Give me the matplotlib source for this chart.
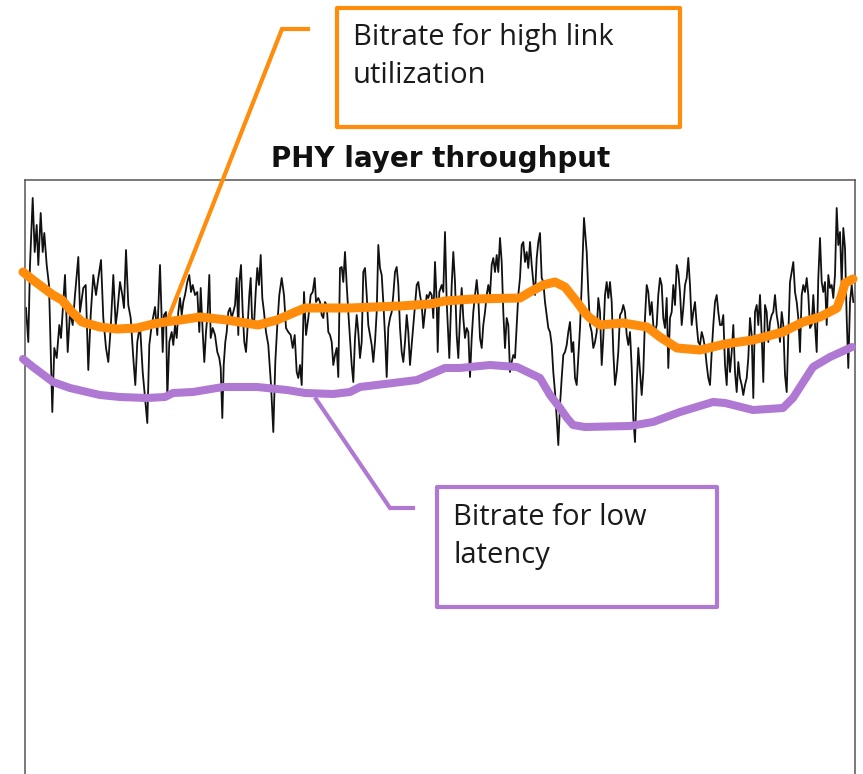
import matplotlib.pyplot as plt
from matplotlib.patches import Rectangle
from matplotlib.lines import Line2D

W, H = 863, 774

# PHY layer throughput samples (time in ms, throughput in arbitrary units)
time_ms = [
    # 0 - 140
    1, 3.3, 5, 7.7, 9.7, 11.7, 13.3, 15.7, 17.7, 19.3, 21.7, 24, 27.3, 29.3, 31.7,
    34.3, 36, 40, 42.7, 45, 47.7, 50, 53.3, 55, 58.3, 60.7, 63.3, 65.7, 68.3, 71,
    73.3, 76, 78.3, 81, 83.3, 85.7, 88.3, 90.7, 92.3, 95, 97.3, 99, 101, 103.3, 105.7,
    108.3, 110.3, 112.3, 115, 117.7, 120, 122.3, 124.3, 126.7, 130, 132.3, 135, 137.7,
    # 140 - 275
    139, 141, 142.3, 144.3, 146.7, 148.3, 150, 151.7, 153.3, 155, 156.7, 158.3, 160,
    162.3, 164.3, 166, 167.7, 170, 172.3, 174.3, 175.7, 177.7, 179.3, 181, 182.7,
    184.3, 185.7, 187.7, 190, 192.3, 194.3, 195.7, 197.3, 198.7, 200.3, 201.7, 203.3,
    205, 206.7, 208.3, 210, 211.7, 213.3, 214.3, 216, 217.7, 219.3, 221, 222.3, 224.3,
    225.7, 227, 229, 230.7, 232.3, 234, 235.7, 237.3, 239, 241, 243.3, 246, 248.3,
    250.3, 252.3, 254.3, 256.7, 259, 261, 263.3, 265.7, 267.7, 269.7, 271.7, 273.3, 275,
    # 275 - 420
    276.7, 279, 281, 283.3, 285.7, 287.7, 289.7, 291, 293.3, 295, 296.7, 298.3, 300,
    301.7, 303.3, 305, 306.7, 308.3, 310, 311.7, 313.3, 315, 316.7, 318.3, 320, 321.7,
    323.3, 325, 326.7, 328.3, 330, 331.7, 333.3, 335, 336.7, 338.3, 340, 341.7, 343.3,
    345, 346.7, 348.3, 350, 351.7, 353.3, 355, 356.7, 358.3, 360, 361.7, 363.3, 365,
    366.7, 368.3, 370, 371.7, 373.3, 375, 376.7, 378.3, 380, 381.7, 383.3, 385, 386.7,
    388.3, 390, 391.7, 393.3, 395, 396.7, 398.3, 400, 401.7, 403.3, 405, 406.7, 408.3,
    410, 411.7, 412.7, 414.3, 416.7, 418.3,
    # 420 - 560
    420, 421.7, 424.3, 426.7, 428.3, 430, 431.7, 433.3, 435, 436.7, 438.3, 440, 441.7,
    443.3, 445, 446.7, 448.3, 450, 451.7, 453.3, 455, 456.7, 458.3, 460, 461.7, 463.3,
    465, 466.7, 468.3, 470, 471.7, 473.3, 475, 476.7, 478.3, 480, 481.7, 483.3, 485,
    486.7, 488.3, 490, 491.7, 493.3, 495, 496.7, 498.3, 500, 501.7, 503.3, 505, 506.7,
    508.3, 510, 511.7, 513.3, 515, 516.7, 518.3, 520, 521.7, 523.3, 525, 526.7, 528.3,
    530, 531.7, 533.3, 535, 536.7, 538.3, 540, 541.7, 543.3, 545, 546.7, 548.3, 550,
    551.7, 553.3, 555, 556.7, 559,
    # 560 - 695
    561.7, 563.3, 565, 566.7, 568.3, 570, 571.7, 573.3, 575, 576.7, 578.3, 580, 581.7,
    583.3, 585, 586.7, 588.3, 590, 591.7, 593.3, 595, 596.7, 598.3, 600, 601.7, 603.3,
    605, 606.7, 608.3, 610, 611.7, 613.3, 615, 616.7, 618.3, 620, 621.7, 623.3, 625,
    626.7, 628.3, 630, 631.7, 633.3, 635, 636.7, 638.3, 640, 641.7, 643.3, 645, 646.7,
    648.3, 650, 651.7, 653.3, 655, 656.7, 658.3, 660, 661.7, 663.3, 665, 666.7, 668.3,
    670, 671.7, 673.3, 675, 676.7, 678.3, 680, 681.7, 683.3, 685, 686.7, 688.3, 690,
    691.7, 693.3, 695,
    # 695 - 830
    696.7, 698.3, 700, 701.7, 703.3, 705, 706.7, 708.3, 710, 711.7, 713.3, 715, 716.7,
    718.3, 720, 721.7, 723.3, 725, 726.7, 728.3, 730, 731.7, 733.3, 735, 736.7, 738.3,
    740, 741.7, 743.3, 745, 746.7, 748.3, 750, 751.7, 753.3, 755, 756.7, 758.3, 760,
    761.7, 763.3, 765, 766.7, 768.3, 770, 771.7, 773.3, 775, 776.7, 778.3, 780, 781.7,
    783.3, 785, 786.7, 788.3, 790, 791.7, 793.3, 795, 796.7, 798.3, 800, 801.7, 803.3,
    805, 806.7, 808.3, 810, 811.7, 813.3, 815, 816.7, 818.3, 820, 821.7, 823.3, 825,
    826.7, 828.3,
]
phy_throughput = [
    466, 432, 509, 576, 522, 549, 509, 561, 522, 541, 509, 489, 362, 426, 416,
    449, 436, 499, 422, 462, 449, 479, 517, 462, 486, 489, 404, 459, 499, 479,
    496, 514, 456, 426, 412, 446, 499, 449, 462, 492, 479, 466, 524, 469, 456,
    416, 389, 432, 449, 402, 376, 351, 429, 449, 467, 439, 509, 422,
    459, 462, 376, 432, 442, 429, 449, 436, 462, 476, 459, 472, 479,
    492, 499, 482, 489, 479, 482, 442, 486, 442, 412, 442, 462,
    499, 436, 446, 439, 422, 416, 406, 356, 409, 432, 442, 462,
    466, 456, 462, 469, 496, 439, 492, 509, 462, 432, 422, 442, 479,
    496, 456, 449, 482, 506, 489, 519, 476, 462, 442, 429, 389, 342,
    412, 449, 479, 496, 479, 446, 442, 439, 426, 439, 402, 396, 409,
    389, 482, 439, 456, 479, 482, 496, 472, 476, 472, 459, 456, 472,
    469, 442, 439, 432, 409, 419, 426, 397, 506, 507, 492, 522, 489,
    462, 436, 409, 392, 436, 459, 442, 416, 432, 502, 506, 479, 449,
    439, 429, 412, 432, 462, 529, 506, 499, 472, 439, 397, 446, 456,
    462, 479, 502, 507, 489, 446, 422, 412, 432, 459, 442, 409, 429,
    449, 469, 489, 492, 479, 469, 446, 462, 479, 476, 482, 479, 456,
    512, 472, 422, 482, 489, 482,
    542, 472, 416, 489, 522, 492, 439, 416, 456, 486, 456, 436, 446,
    442, 397, 436, 462, 479, 494, 476, 436, 426, 449, 462, 479, 489,
    479, 509, 516, 502, 519, 502, 536, 512, 462, 426, 456, 449, 402,
    412, 419, 416, 449, 479, 496, 529, 532, 512, 522, 506, 532, 509,
    492, 479, 516, 532, 541, 496, 492, 472, 459, 446, 442, 429, 402,
    382, 356, 329, 369, 396, 419, 422, 429, 442, 452, 422, 432, 396,
    389, 416, 446, 489, 556,
    522, 482, 449, 442, 426, 432, 442, 476, 462, 409, 436, 479, 492,
    476, 492, 472, 422, 389, 402, 422, 459, 462, 469, 462, 439, 429,
    442, 406, 356, 332, 389, 426, 402, 379, 402, 456, 489, 482, 459,
    472, 449, 442, 449, 479, 496, 489, 456, 446, 476, 406, 456, 462,
    489, 469, 509, 502, 482, 449, 466, 489, 496, 516, 489, 449, 462,
    472, 449, 432, 429, 442, 436, 426, 409, 396, 389, 422, 449, 472,
    479, 462, 449,
    449, 459, 409, 389, 432, 402, 422, 449, 402, 382, 412, 396, 389,
    379, 389, 396, 416, 456, 439, 376, 462, 469, 449, 479, 439, 392,
    469, 462, 432, 452, 459, 462, 479, 459, 449, 432, 462, 449, 399,
    382, 439, 492, 502, 512, 482, 472, 456, 422, 479, 489, 482, 496,
    479, 446, 449, 479, 449, 422, 496, 536, 492, 482, 492, 449, 499,
    486, 489, 476, 499, 566, 529, 542, 489, 546, 526, 456, 406, 472,
    489, 472,
]

# bitrate for high link utilization (orange)
high_util_t = [-2, 8, 28, 37, 47, 57, 75, 92, 112, 128, 140, 155, 175, 202, 233, 252,
               268, 280, 288, 325, 375, 405, 420, 448, 495, 505, 518, 530, 540, 552,
               560, 565, 575, 598, 622, 635, 652, 675, 700, 728, 758, 778, 795, 812,
               817, 820, 828]
high_util_rate = [502, 494, 479, 474, 462, 452, 447, 445, 446, 450, 452, 454, 457, 454,
                  449, 454, 461, 466, 466, 466, 468, 470, 473, 475, 476, 482, 489, 492,
                  487, 472, 461, 456, 449, 451, 447, 437, 426, 424, 430, 434, 442, 452,
                  457, 466, 480, 491, 495]

# bitrate for low latency (purple)
low_lat_t = [-2, 8, 28, 45, 75, 95, 122, 140, 148, 168, 198, 232, 262, 280, 308, 325,
             335, 368, 392, 420, 435, 465, 492, 515, 525, 535, 542, 548, 560, 605, 628,
             655, 688, 700, 728, 758, 768, 788, 805, 827]
low_lat_rate = [415, 407, 392, 386, 379, 377, 376, 377, 381, 382, 387, 387, 384, 381,
                380, 382, 387, 391, 394, 406, 406, 409, 407, 396, 379, 366, 356, 349,
                347, 348, 352, 362, 372, 371, 364, 366, 376, 407, 417, 427]

ORANGE = "#ff8c0a"
PURPLE = "#af78d2"


def fig_xy(x, y):
    # pixel position (from top-left) -> figure fraction
    return x / W, 1 - y / H


fig = plt.figure(figsize=(W / 100, H / 100), dpi=100)
ax = fig.add_axes([25 / W, 0, 830 / W, 594 / H])
ax.set_xlim(0, 830)
ax.set_ylim(0, 594)
ax.set_xticks([])
ax.set_yticks([])
ax.spines["bottom"].set_visible(False)
for s in ("left", "right", "top"):
    ax.spines[s].set_color("#555555")
    ax.spines[s].set_linewidth(1.1)

ax.plot(time_ms, phy_throughput, color="#111111", lw=1.3, zorder=2)
ax.plot(high_util_t, high_util_rate, color=ORANGE, lw=6.5, solid_capstyle="round",
        solid_joinstyle="round", zorder=3, clip_on=False)
ax.plot(low_lat_t, low_lat_rate, color=PURPLE, lw=5.8, solid_capstyle="round",
        solid_joinstyle="round", zorder=3, clip_on=False)

fig.text(*fig_xy(441, 167), "PHY layer throughput", ha="center", va="baseline",
         fontsize=20, fontweight="bold", family="DejaVu Sans", color="#111111")

# callout boxes
callouts = [
    ((337, 8, 343, 119), ORANGE, (353, 45), ["Bitrate for high link", "utilization"],
     [(308, 29), (282, 29), (168, 319)]),
    ((437, 487, 280, 120), PURPLE, (453, 525), ["Bitrate for low", "latency"],
     [(413, 508), (390, 508), (316, 399)]),
]
for (bx, by, bw, bh), col, (tx, ty), lines, leader in callouts:
    x0, y0 = fig_xy(bx, by + bh)
    fig.add_artist(Rectangle((x0, y0), bw / W, bh / H, transform=fig.transFigure,
                             fill=False, edgecolor=col, lw=3, joinstyle="round"))
    xs = [fig_xy(px, py)[0] for px, py in leader]
    ys = [fig_xy(px, py)[1] for px, py in leader]
    fig.add_artist(Line2D(xs, ys, transform=fig.transFigure, color=col, lw=3,
                          zorder=5, solid_joinstyle="miter"))
    for i, line in enumerate(lines):
        fig.text(*fig_xy(tx, ty + 38 * i), line, ha="left", va="baseline",
                 fontsize=21, family="Open Sans", color="#1a1a1a")

fig.savefig("out.png", dpi=100)
